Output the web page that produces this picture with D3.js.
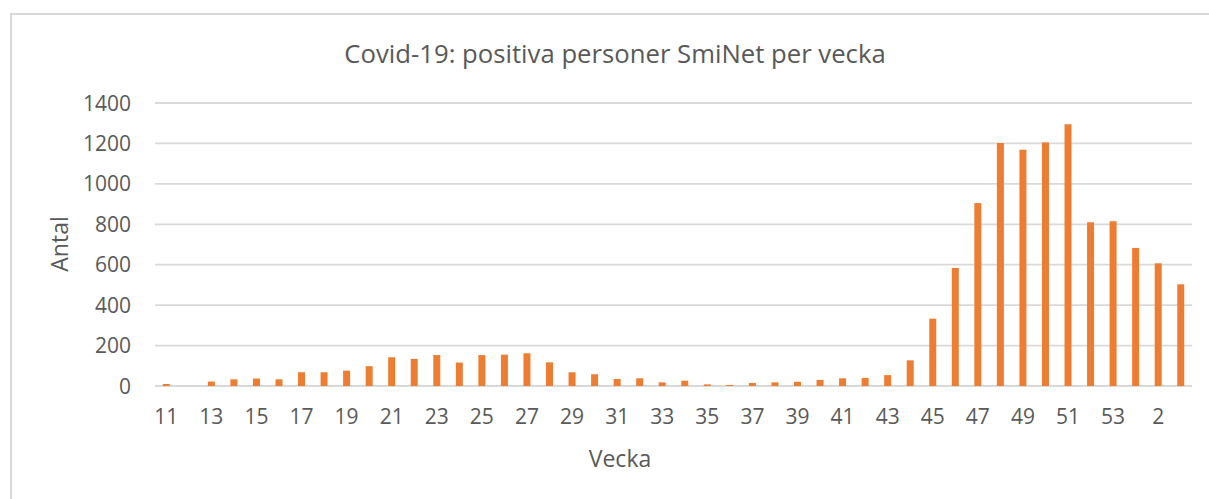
<!DOCTYPE html>
<html>
<head>
<meta charset="utf-8">
<script src="https://cdn.jsdelivr.net/npm/d3@7"></script>
<style>
  body { margin: 0; background: #fff; }
  text { font-family: "Open Sans", sans-serif; fill: #595959; }
</style>
</head>
<body>
<svg width="1209" height="499"></svg>
<script>
// weeks 11..53 of 2020, then 1..3 of 2021
const weeks = [11,12,13,14,15,16,17,18,19,20,21,22,23,24,25,26,27,28,29,30,31,32,33,34,35,36,37,38,39,40,41,42,43,44,45,46,47,48,49,50,51,52,53,1,2,3];
const positives = [10,0,22,33,37,33,68,68,76,98,142,134,153,116,153,155,162,117,68,58,35,38,18,26,8,5,15,18,21,30,38,40,54,127,333,584,905,1202,1169,1205,1295,810,815,683,607,503];
const yTicks = [0,200,400,600,800,1000,1200,1400];

const svg = d3.select('svg');
const plotLeft = 155, plotRight = 1192, plotTop = 103, plotBottom = 386;

// chart frame
svg.append('rect')
   .attr('x', 11).attr('y', 14)
   .attr('width', 1300).attr('height', 600)
   .attr('fill', 'none')
   .attr('stroke', '#d9d9d9')
   .attr('stroke-width', 2);

const keys = weeks.map((w, i) => i);
const x = d3.scaleBand().domain(keys).range([plotLeft, plotRight]).paddingInner(0.69).paddingOuter(0.345);
const y = d3.scaleLinear().domain([0, 1400]).range([plotBottom, plotTop]);

// gridlines
svg.append('g').selectAll('line')
   .data(yTicks)
   .enter().append('line')
   .attr('x1', plotLeft).attr('x2', plotRight)
   .attr('y1', d => y(d)).attr('y2', d => y(d))
   .attr('stroke', '#d9d9d9')
   .attr('stroke-width', 1.8);

// y tick labels
svg.append('g').selectAll('text')
   .data(yTicks)
   .enter().append('text')
   .attr('x', 131)
   .attr('y', d => y(d) + 7.5)
   .attr('text-anchor', 'end')
   .style('font-size', '21px')
   .text(d => d);

// bars
svg.append('g').selectAll('rect')
   .data(positives)
   .enter().append('rect')
   .attr('x', (d, i) => x(i))
   .attr('width', x.bandwidth())
   .attr('y', d => y(d))
   .attr('height', d => y(0) - y(d))
   .attr('fill', '#ED7D31');

// x labels, every other week
const step = x.step();
svg.append('g').selectAll('text')
   .data(keys.filter(i => i % 2 === 0))
   .enter().append('text')
   .attr('x', i => plotLeft + step * (i + 0.5))
   .attr('y', 424)
   .attr('text-anchor', 'middle')
   .style('font-size', '21px')
   .text(i => weeks[i]);

svg.append('text')
   .attr('x', 615).attr('y', 63)
   .attr('text-anchor', 'middle')
   .style('font-size', '25.7px')
   .text('Covid-19: positiva personer SmiNet per vecka');

svg.append('text')
   .attr('x', 620).attr('y', 467)
   .attr('text-anchor', 'middle')
   .style('font-size', '23px')
   .text('Vecka');

svg.append('text')
   .attr('transform', 'translate(68,244) rotate(-90)')
   .attr('text-anchor', 'middle')
   .style('font-size', '23px')
   .text('Antal');
</script>
</body>
</html>
